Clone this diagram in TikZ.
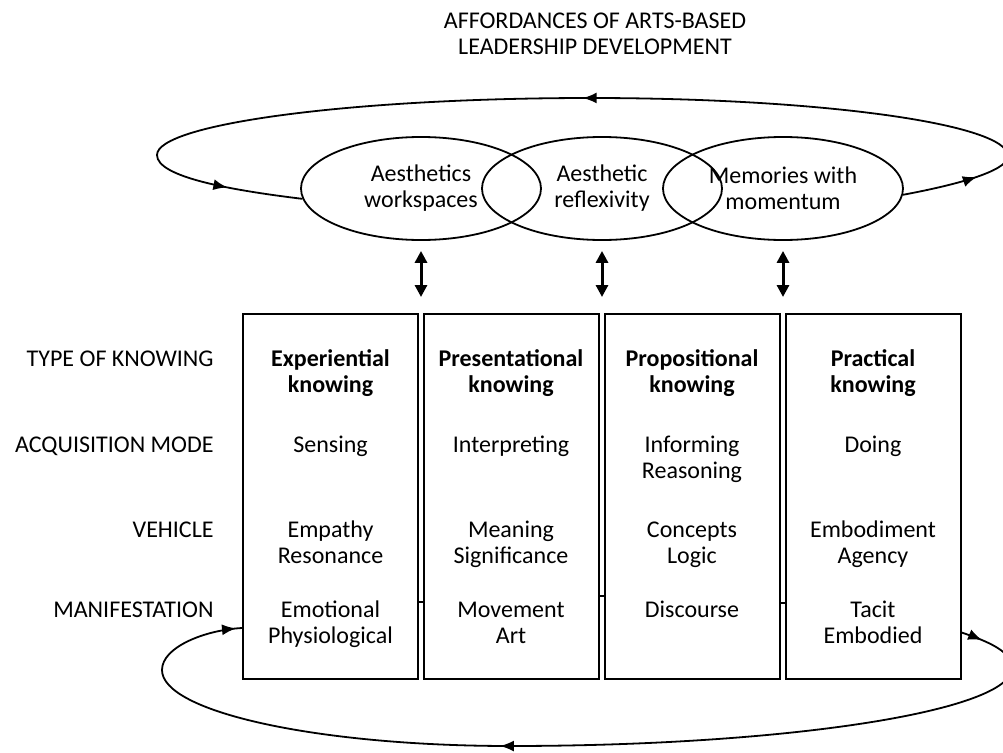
\documentclass[tikz,border=0pt]{standalone}
\usepackage{fontspec}
\setmainfont{Carlito}
\usetikzlibrary{arrows.meta,shapes.geometric,decorations.markings}
\newcommand{\diagfont}{\fontsize{12}{13}\selectfont}
\newcommand{\typefont}{\fontsize{12}{13}\selectfont\bfseries}

\begin{document}
\begin{tikzpicture}[x=0.5pt, y=0.5pt, font=\diagfont,
  affordance/.style={ellipse, draw, line width=0.9pt, minimum width=120pt, minimum height=51.5pt, inner sep=0pt, align=center},
  knowbox/.style={rectangle, draw, line width=1pt, minimum width=87.5pt, minimum height=182.5pt, inner sep=0pt},
  rowlabel/.style={anchor=base east, inner sep=0pt},
  celltext/.style={anchor=north, inner sep=0pt, align=center},
  looppath/.style={line width=0.9pt, postaction={decorate}},
  dblarrow/.style={{Triangle[length=6pt,width=6pt]}-{Triangle[length=6pt,width=6pt]}, line width=1.5pt},
  boxtick/.style={line width=0.9pt},
  >={Latex[length=7pt,width=5.5pt]}]
\useasboundingbox (0,0) rectangle (1003,752);
%%%%%%%%%%%%%%%%%%%%%%%%%%%%%%% Affordances
\node[celltext](title) at (595,742){\strut AFFORDANCES OF ARTS-BASED\\LEADERSHIP DEVELOPMENT};
\node[affordance](aesth) at (421,563.5){Aesthetics\\workspaces};
\node[affordance](refl) at (602,563.5){Aesthetic\\reflexivity};
\node[affordance](memo) at (783,563.5){Memories with\\momentum};
\draw[looppath, decoration={markings, mark=at position 38pt with {\arrow{>}}, mark=at position 276pt with {\arrow{>}}, mark=at position -38pt with {\arrow{>}}}]
  (memo.-3) .. controls (950,566) and (1008,580) .. (1008,596)
  .. controls (1008,628) and (821,654) .. (590,654)
  .. controls (351,654) and (157,628) .. (157,597)
  .. controls (157,575) and (230,562) .. (aesth.185);

%%%%%%%%%%%%%%%%%%%%%%%%%%%%%%% Ways of knowing
\node[knowbox](expBox) at (330.5,255.5){};
\node[knowbox](presBox) at (511,255.5){};
\node[knowbox](propBox) at (692,255.5){};
\node[knowbox](pracBox) at (873,255.5){};
\draw[boxtick] ([yshift=-52.75pt]expBox.east) -- ([yshift=-52.75pt]presBox.west);
\draw[boxtick] ([yshift=-49.75pt]presBox.east) -- ([yshift=-49.75pt]propBox.west);
\draw[boxtick] ([yshift=-53.25pt]propBox.east) -- ([yshift=-53.25pt]pracBox.west);

\draw[dblarrow] ([yshift=-5pt]aesth.south) -- ([yshift=8pt]aesth.south |- expBox.north);
\draw[dblarrow] ([yshift=-5pt]refl.south) -- ([yshift=8pt]refl.south |- presBox.north);
\draw[dblarrow] ([yshift=-5pt]memo.south) -- ([yshift=8pt]memo.south |- propBox.north);

\node[rowlabel](typeLbl) at (214,386){TYPE OF KNOWING};
\node[rowlabel](modeLbl) at (214,300){ACQUISITION MODE};
\node[rowlabel](vehLbl) at (214,215){VEHICLE};
\node[rowlabel](manLbl) at (214,135){MANIFESTATION};

\node[celltext, font=\typefont](expType) at (330.5,404.2){\strut Experiential\\knowing};
\node[celltext](expMode) at (330.5,318.2){\strut Sensing};
\node[celltext](expVeh) at (330.5,233.2){\strut Empathy\\Resonance};
\node[celltext](expMan) at (330.5,153.2){\strut Emotional\\Physiological};

\node[celltext, font=\typefont](presType) at (511,404.2){\strut Presentational\\knowing};
\node[celltext](presMode) at (511,318.2){\strut Interpreting};
\node[celltext](presVeh) at (511,233.2){\strut Meaning\\Significance};
\node[celltext](presMan) at (511,153.2){\strut Movement\\Art};

\node[celltext, font=\typefont](propType) at (692,404.2){\strut Propositional\\knowing};
\node[celltext](propMode) at (692,318.2){\strut Informing\\Reasoning};
\node[celltext](propVeh) at (692,233.2){\strut Concepts\\Logic};
\node[celltext](propMan) at (692,153.2){\strut Discourse};

\node[celltext, font=\typefont](pracType) at (873,404.2){\strut Practical\\knowing};
\node[celltext](pracMode) at (873,318.2){\strut Doing};
\node[celltext](pracVeh) at (873,233.2){\strut Embodiment\\Agency};
\node[celltext](pracMan) at (873,153.2){\strut Tacit\\Embodied};

\draw[looppath, decoration={markings, mark=at position 11pt with {\arrow{>}}, mark=at position 297pt with {\arrow{>}}, mark=at position -3pt with {\arrow{>}}}]
  ([yshift=-68pt]pracBox.east) .. controls (990,110) and (1012,100) .. (1012,84)
  .. controls (1012,41) and (787,6) .. (510,6)
  .. controls (318,6) and (162,40) .. (162,82)
  .. controls (162,105) and (205,122) .. ([yshift=-65.75pt]expBox.west);
\end{tikzpicture}
\end{document}
